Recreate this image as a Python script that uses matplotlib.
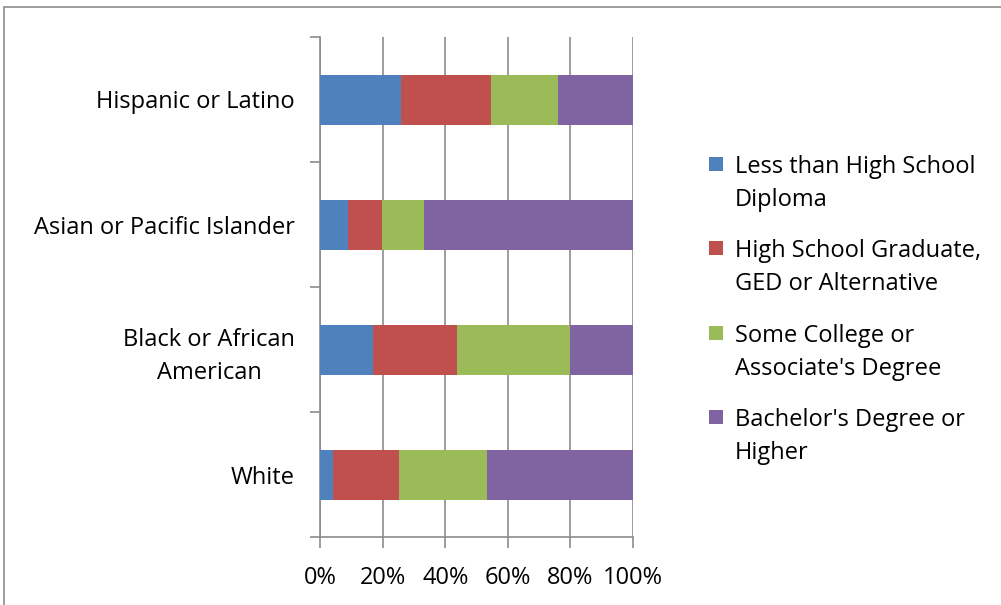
import matplotlib.pyplot as plt
from matplotlib.patches import Rectangle
import numpy as np

groups = ["White", "Black or African\nAmerican", "Asian or Pacific Islander", "Hispanic or Latino"]
series = ["Less than High School\nDiploma",
          "High School Graduate,\nGED or Alternative",
          "Some College or\nAssociate's Degree",
          "Bachelor's Degree or\nHigher"]
less_hs = [4.3, 17.0, 9.0, 25.8]
hs_grad = [20.8, 26.8, 10.8, 28.8]
some_college = [28.3, 36.2, 13.3, 21.5]
bachelors = [46.6, 20.0, 66.9, 23.9]
colors = ["#4f81bd", "#c0504d", "#9bbb59", "#8064a2"]

plt.rcParams["font.family"] = ["Open Sans", "DejaVu Sans"]
grid_col = "#8c8c8c"
fs = 17
W, H = 1001, 605

fig = plt.figure(figsize=(W / 100, H / 100), dpi=100)
fig.patches.append(Rectangle((4 / W, -0.1), 1.2, 1 - 7 / H + 0.1,
                             transform=fig.transFigure, fill=False,
                             edgecolor=grid_col, linewidth=1.2))
ax = fig.add_axes([320 / W, 68 / H, 313 / W, 500 / H])

y = np.arange(len(groups))
total = np.array(less_hs) + np.array(hs_grad) + np.array(some_college) + np.array(bachelors)
left = np.zeros(len(groups))
for vals, col, name in zip([less_hs, hs_grad, some_college, bachelors], colors, series):
    pct = np.array(vals) / total * 100
    ax.barh(y, pct, left=left, height=0.4, color=col, label=name, zorder=3)
    left += pct

ax.set_xlim(0, 100)
ax.set_ylim(-0.5, len(groups) - 0.5)
ax.set_xticks(range(0, 101, 20))
ax.set_xticklabels([f"{v}%" for v in range(0, 101, 20)], fontsize=fs)
ax.xaxis.grid(True, color=grid_col, linewidth=1.2, zorder=0)
ax.set_yticks(y)
ax.set_yticklabels(groups, fontsize=fs, ha="right", multialignment="center", linespacing=1.45)
ax.set_yticks(np.arange(-0.5, len(groups), 1), minor=True)
ax.tick_params(axis="y", which="major", length=0, pad=18)
ax.tick_params(axis="y", which="minor", length=7, color=grid_col, width=1.2)
ax.tick_params(axis="x", length=8, color=grid_col, width=1.2, pad=13)
for s in ["top", "right"]:
    ax.spines[s].set_visible(False)
for s in ["left", "bottom"]:
    ax.spines[s].set_color(grid_col)
    ax.spines[s].set_linewidth(1.2)

# legend drawn by hand: Excel puts the colour square on the first text line
for i, (name, col) in enumerate(zip(series, colors)):
    y0 = 165 + 84.3 * i
    fig.patches.append(Rectangle((709 / W, 1 - (y0 + 6) / H), 14 / W, 14 / H,
                                 transform=fig.transFigure, facecolor=col,
                                 edgecolor="none"))
    for j, line in enumerate(name.split("\n")):
        fig.text(735 / W, 1 - (y0 + 2 + 33 * j) / H, line, fontsize=fs,
                 ha="left", va="center")

fig.savefig("out.png", dpi=100)
